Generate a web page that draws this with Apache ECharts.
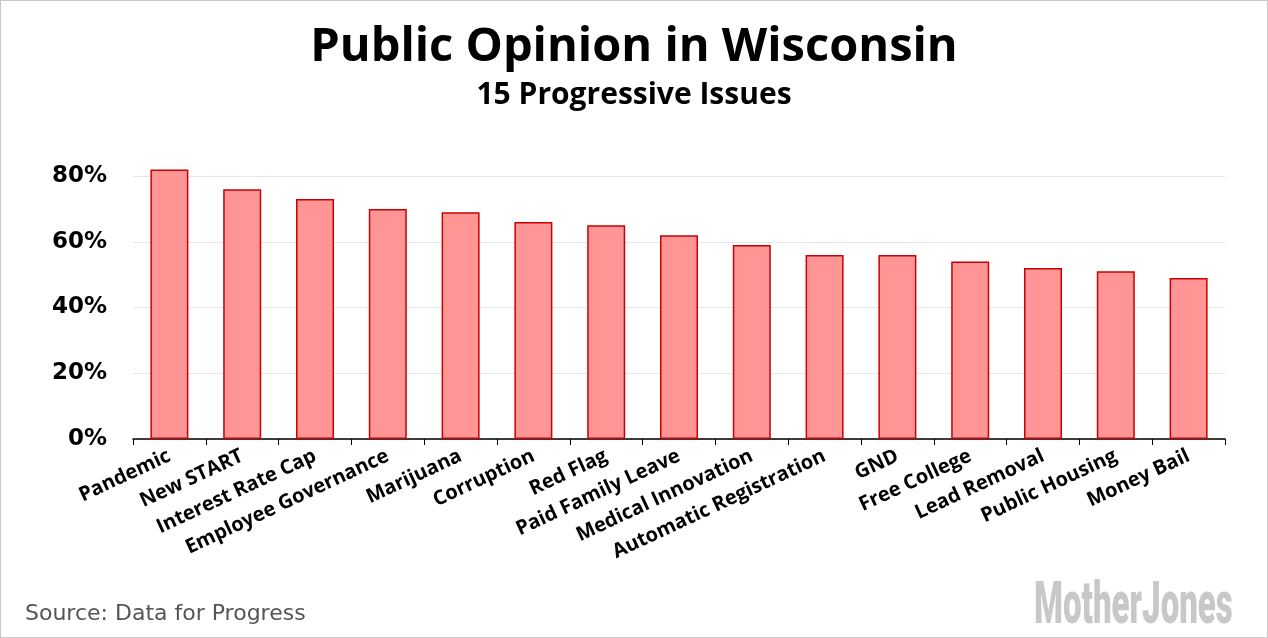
<!DOCTYPE html>
<html>
<head>
<meta charset="utf-8">
<script src="https://cdn.jsdelivr.net/npm/echarts@6/dist/echarts.min.js"></script>
<style>
html,body{margin:0;padding:0;background:#fff;}
#c{width:1268px;height:638px;box-sizing:border-box;border:1px solid #c8c8c8;}
</style>
</head>
<body>
<div id="c"></div>
<script>
const categories = ["Pandemic","New START","Interest Rate Cap","Employee Governance","Marijuana","Corruption","Red Flag","Paid Family Leave","Medical Innovation","Automatic Registration","GND","Free College","Lead Removal","Public Housing","Money Bail"];
const values = [82,76,73,70,69,66,65,62,59,56,56,54,52,51,49];
const yTicks = [0,20,40,60,80];

const chart = echarts.init(document.getElementById('c'));
chart.setOption({
  animation:false,
  title:[
    {text:"Public Opinion in Wisconsin", left:'center', top:18,
     textStyle:{fontFamily:'Open Sans', fontWeight:'bold', fontSize:47, color:'#000'}},
    {text:"15 Progressive Issues", left:'center', top:74,
     textStyle:{fontFamily:'Open Sans', fontWeight:'bold', fontSize:30, color:'#000'}}
  ],
  graphic:[
    {type:'text', left:24, top:602, style:{text:'Source: Data for Progress', font:'22px "DejaVu Sans"', fill:'#555'}},
    {type:'text', x:1033, y:578, scaleX:0.56, originX:0, style:{text:'MotherJones', font:'900 59px Roboto', fill:'#c8c8c8'}}
  ],
  grid:{left:132, right:42, top:175, bottom:198},
  xAxis:{type:'category', data:categories,
    axisLine:{lineStyle:{color:'#000', width:1.5}},
    axisTick:{show:true, length:6, lineStyle:{color:'#000'}},
    axisLabel:{rotate:25, interval:0, margin:16, fontFamily:'Open Sans', fontWeight:'bold', fontSize:20, color:'#000'}
  },
  yAxis:{type:'value', min:0, max:80, interval:20,
    axisLine:{show:false}, axisTick:{show:false},
    splitLine:{lineStyle:{color:'#e6e6e6', width:1}},
    axisLabel:{margin:26, fontFamily:'DejaVu Sans', fontWeight:'bold', fontSize:23, color:'#000',
      formatter:v=>yTicks.includes(v)?v+'%':''}
  },
  series:[{type:'bar', data:values, barWidth:38, clip:false,
    itemStyle:{color:'#ff9595', borderColor:'#cc0000', borderWidth:1.5}}]
});
</script>
</body>
</html>
